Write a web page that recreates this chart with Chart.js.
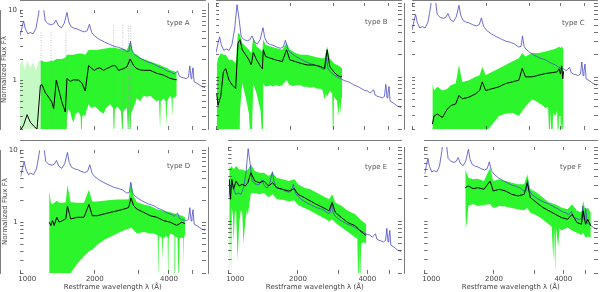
<!DOCTYPE html>
<html>
<head>
<meta charset="utf-8">
<title>composite spectra by type</title>
<script src="https://cdn.jsdelivr.net/npm/chart.js@4.4.0/dist/chart.umd.min.js"></script>
<style>
  body { margin: 0; width: 600px; height: 292px; background: #fff; position: relative; overflow: hidden; }
  .box { position: absolute; }
  .box canvas { display: block; }
  .typ { position: absolute; font: 7px "DejaVu Sans", sans-serif; color: #555; white-space: nowrap; }
</style>
</head>
<body>
<div class="box" style="left:0px;top:0px"><canvas id="cA" width="208" height="140"></canvas></div>
<div class="box" style="left:208px;top:0px"><canvas id="cB" width="196" height="140"></canvas></div>
<div class="box" style="left:404px;top:0px"><canvas id="cC" width="196" height="140"></canvas></div>
<div class="box" style="left:0px;top:140px"><canvas id="cD" width="208" height="152"></canvas></div>
<div class="box" style="left:208px;top:140px"><canvas id="cE" width="196" height="152"></canvas></div>
<div class="box" style="left:404px;top:140px"><canvas id="cF" width="196" height="152"></canvas></div>
<div class="typ" style="left:167px;top:19px">type A</div>
<div class="typ" style="left:365px;top:18px">type B</div>
<div class="typ" style="left:562px;top:19px">type C</div>
<div class="typ" style="left:167px;top:162px">type D</div>
<div class="typ" style="left:365px;top:163px">type E</div>
<div class="typ" style="left:560px;top:163px">type F</div>
<script>
// quasar composite (blue), same curve in every panel, scaled per panel
var tplLam = [1000,1020,1034,1050,1075,1100,1130,1160,1190,1216,1240,1265,1300,1340,1370,1398,1430,1470,1510,1549,1575,1610,1660,1700,1760,1820,1870,1909,1950,2000,2100,2200,2300,2400,2500,2600,2700,2760,2798,2840,2900,3000,3100,3200,3300,3400,3500,3600,3700,3800,3900,4000,4100,4200,4340,4400,4500,4600,4700,4800,4861,4920,4959,5007,5060,5200,5300,5400,5500,5600];
var tplFlux = [4.3,5.8,7.0,5.5,4.6,4.8,4.6,5.5,9,19,12,7.0,6.4,6.2,6.4,7.2,6.0,5.6,6.5,9.3,6.8,5.8,5.5,5.4,5.1,4.9,5.1,6.3,4.8,4.3,3.8,3.5,3.25,3.05,2.95,2.8,2.55,2.6,3.6,2.6,2.35,2.15,2.0,1.9,1.8,1.75,1.68,1.58,1.52,1.46,1.38,1.32,1.3,1.22,1.35,1.15,1.1,1.08,1.05,1.1,1.6,1.05,1.2,1.5,0.95,0.9,0.86,0.82,0.8,0.78];
var tplScale = [1, 0.5, 1, 1, 0.5, 1];

// type A: median (black), upper and lower edge of the green spread
var lamA = [1004,1035,1068,1101,1136,1172,1209,1228,1266,1306,1347,1368,1402,1433,1478,1525,1549,1597,1647,1726,1780,1836,1894,1953,2000,2047,2100,2177,2240,2316,2360,2427,2503,2560,2622,2660,2704,2789,2877,2967,3061,3157,3359,3574,3686,3802,3921,4045,4172,4304];
var medA = [0.19,0.23,0.32,0.25,0.22,0.2,0.84,0.86,0.66,0.57,0.48,0.39,1.0,0.74,0.48,0.35,1.06,0.96,1.01,1.0,0.91,0.7,1.62,1.46,1.38,1.46,1.5,1.38,1.46,1.54,1.6,1.62,1.38,1.42,1.46,1.5,1.54,2.0,1.62,1.46,1.40,1.38,1.38,1.25,1.22,1.18,1.12,1.06,1.03,1.01];
var upLamA = [1209,1228,1266,1306,1347,1368,1402,1433,1478,1525,1549,1597,1647,1726,1780,1836,1894,1953,2047,2177,2316,2427,2503,2622,2704,2789,2877,2967,3061,3157,3359,3574,3686,3802,3921,4045,4172,4304];
var upA = [1.9,1.9,1.8,1.85,1.9,1.9,2.0,2.0,2.0,2.1,2.3,2.3,2.3,2.4,2.4,2.3,2.7,2.7,2.7,2.8,2.9,2.9,2.8,2.8,2.7,3.5,2.4,2.3,2.1,2.0,1.85,1.7,1.65,1.55,1.5,1.4,1.35,1.3];
var loLamA = [1209,1540,1549,1570,1597,1620,1647,1680,1726,1760,1772,1785,1810,1836,1860,1894,1920,1953,2000,2047,2100,2177,2230,2316,2380,2400,2420,2480,2503,2560,2600,2615,2660,2704,2740,2760,2790,2815,2877,2967,3061,3157,3250,3359,3450,3574,3650,3686,3710,3802,3880,3910,3935,4045,4100,4130,4150,4250,4304];
var loA = [0.1,0.1,0.3,0.38,0.35,0.28,0.25,0.33,0.35,0.3,0.12,0.3,0.32,0.3,0.38,0.45,0.42,0.4,0.42,0.4,0.36,0.33,0.4,0.45,0.4,0.15,0.38,0.42,0.4,0.36,0.15,0.35,0.38,0.4,0.15,0.35,0.12,0.34,0.4,0.55,0.5,0.6,0.58,0.6,0.55,0.5,0.52,0.2,0.5,0.55,0.5,0.22,0.5,0.6,0.55,0.3,0.55,0.58,0.6];
// sparse spectra blueward of Lya in type A
var lamA0 = [1000,1020,1045,1070,1100,1130,1160,1190,1209];
var upA0 = [1.6,2.0,1.4,1.9,1.5,1.8,1.4,1.9,1.9];
var loA0 = [0.1,0.1,0.1,0.1,0.1,0.1,0.1,0.1,0.1];
// dotted line positions in type A
var markLam = [1217,1335,1535,2391,2605,2745,2806];
var markTop = [4.8,4.8,4.8,6.2,6.2,6.0,6.0];

var lamB = [1007,1019,1045,1071,1094,1129,1164,1201,1227,1250,1277,1318,1359,1389,1415,1460,1515,1540,1553,1587,1662,1741,1853,1929,1989,2097,2197,2337,2486,2646,2746,2815,2885,2994,3088,3186,3236];
var medB = [0.6,0.42,0.55,1.18,1.31,0.91,0.78,0.70,2.85,3.2,2.34,2.0,1.71,1.46,2.15,1.71,1.39,1.3,2.34,1.9,1.8,1.71,1.62,2.34,1.71,1.62,1.54,1.46,1.46,1.39,1.31,2.34,1.39,1.18,1.065,1.01,1.03];
var upB = [1.46,1.8,2.1,2.0,2.0,1.71,1.71,1.54,3.97,3.76,2.89,2.6,2.34,2.11,3.39,2.6,2.34,2.2,3.21,2.74,2.6,2.47,2.34,2.89,2.34,2.11,2.0,2.0,1.9,1.8,1.8,2.6,1.8,1.54,1.46,1.385,1.31];
var loLamB = [1007,1245,1250,1277,1318,1359,1385,1392,1415,1460,1515,1538,1545,1553,1587,1662,1700,1741,1800,1853,1929,1989,2050,2097,2197,2260,2337,2400,2486,2560,2646,2700,2746,2780,2815,2885,2950,2980,3000,3050,3088,3130,3160,3186,3210,3236];
var loB = [0.1,0.1,0.35,0.82,0.54,0.32,0.1,0.1,0.82,0.6,0.35,0.1,0.1,0.82,0.74,0.78,0.75,0.78,0.76,0.78,0.91,0.78,0.76,0.78,0.78,0.74,0.74,0.72,0.74,0.7,0.70,0.66,0.5,0.6,0.54,0.66,0.6,0.1,0.55,0.5,0.48,0.3,0.45,0.32,0.5,0.54];

var lamC = [1209,1228,1266,1327,1390,1434,1502,1549,1598,1700,1809,1877,1924,1985,2111,2246,2390,2542,2705,2790,2878,3061,3258,3466,3687,3863,3930,3984,4030,4072,4100];
var medC = [0.232,0.30,0.318,0.286,0.372,0.413,0.436,0.567,0.51,0.538,0.597,0.66,0.863,0.66,0.70,0.74,0.82,0.863,0.91,1.31,1.01,1.01,1.065,1.12,1.15,1.18,1.3,1.1,1.42,0.95,1.2];
var upC = [0.82,0.66,0.74,0.66,0.70,0.78,0.82,1.46,0.86,0.91,1.01,1.065,1.385,1.065,1.18,1.31,1.46,1.62,1.80,2.11,1.9,2.11,2.11,2.22,2.34,2.47,2.6,2.47,2.6,2.47,2.34];
var loLamC = [1209,1809,1877,1924,1985,2111,2246,2390,2542,2705,2790,2878,2960,3061,3150,3258,3360,3466,3550,3600,3630,3687,3720,3800,3863,3900,3930,3984,4010,4040,4072,4100];
var loC = [0.1,0.1,0.15,0.2,0.18,0.23,0.3,0.32,0.33,0.3,0.35,0.4,0.45,0.5,0.48,0.45,0.42,0.38,0.4,0.12,0.35,0.1,0.33,0.3,0.35,0.1,0.3,0.3,0.1,0.28,0.1,0.1];

var lamD = [1306,1327,1347,1368,1402,1433,1478,1525,1549,1597,1699,1808,1894,1953,2047,2177,2316,2464,2622,2745,2806,2877,2967,3157,3359,3574,3802,4045,4304,4508,4650];
var medD = [1.01,0.91,1.06,0.91,1.18,1.01,1.06,1.12,1.69,1.12,1.18,1.18,1.78,1.24,1.24,1.31,1.38,1.45,1.53,1.61,2.19,1.69,1.53,1.38,1.24,1.18,1.06,1.01,0.91,1.01,0.96];
var upD = [2.8,1.87,1.78,1.87,2.0,1.87,1.87,1.9,3.3,1.9,1.87,1.87,2.83,1.95,1.95,2.0,2.05,2.08,2.08,2.1,3.66,2.3,1.9,1.78,1.69,1.53,1.45,1.38,1.3,1.24,1.18];
var loLamD = [1306,1549,1597,1699,1808,1894,1953,2047,2177,2316,2464,2622,2745,2806,2877,2967,3157,3359,3500,3600,3620,3640,3740,3760,3780,3900,3950,3970,3990,4045,4150,4210,4230,4250,4330,4380,4420,4508,4560,4580,4600,4650];
var loD = [0.1,0.1,0.2,0.27,0.34,0.40,0.42,0.49,0.57,0.636,0.705,0.78,0.82,0.86,0.78,0.705,0.74,0.705,0.7,0.66,0.15,0.65,0.62,0.3,0.6,0.65,0.62,0.12,0.6,0.7,0.68,0.65,0.1,0.63,0.62,0.15,0.6,0.62,0.6,0.25,0.6,0.7];

var lamE = [1007,1019,1032,1051,1077,1111,1146,1182,1212,1250,1298,1359,1423,1492,1553,1612,1715,1824,1929,2002,2130,2266,2400,2565,2729,2815,2904,3088,3286,3547,3719,3957];
var medE = [3.66,1.97,3.66,2.69,3.48,2.98,3.14,2.98,3.3,4.5,3.48,3.3,3.48,2.98,3.3,2.83,2.69,2.55,2.74,2.30,2.08,1.87,1.69,1.53,1.38,1.78,1.31,1.12,0.96,0.866,0.742,0.636];
var upE = [5.53,5.2,5.53,4.99,5.53,4.99,4.99,4.74,4.99,5.82,4.74,4.5,4.5,4.06,4.5,3.86,3.66,3.48,3.66,3.14,2.83,2.69,2.43,2.19,1.97,2.3,1.78,1.61,1.38,1.24,1.06,0.91];
var loLamE = [1007,1012,1019,1025,1032,1045,1051,1065,1077,1095,1111,1130,1146,1160,1182,1200,1212,1250,1298,1359,1423,1492,1553,1612,1715,1824,1929,2002,2130,2266,2400,2565,2729,2815,2904,3088,3286,3547,3620,3660,3690,3719,3760,3850,3957];
var loE = [0.1,0.9,0.9,0.2,1.5,1.2,0.5,1.3,1.4,0.3,0.9,1.4,1.3,0.5,1.0,1.4,1.2,2.4,2.4,2.3,2.4,2.1,2.3,2.0,1.95,1.85,1.9,1.65,1.5,1.38,1.25,1.12,1.0,1.05,0.95,0.83,0.72,0.6,0.58,0.1,0.5,0.1,0.5,0.52,0.5];

var lamF = [1502,1549,1624,1700,1810,1924,1985,2111,2246,2390,2542,2705,2790,2878,3061,3258,3466,3687,3922,4172,4371,4580,4797,4872,4995,5104,5264];
var medF = [2.83,2.98,2.74,2.83,2.69,3.48,2.55,2.69,2.55,2.30,2.19,2.30,3.3,2.08,1.78,1.53,1.38,1.24,1.12,1.06,1.24,0.96,0.91,1.38,0.91,1.06,0.866];
var upF = [4.99,3.86,3.66,3.74,3.48,5.25,3.48,3.66,3.48,3.3,3.14,3.14,4.27,2.69,2.43,2.08,1.78,1.69,1.53,1.45,1.69,1.38,1.31,1.87,1.38,1.53,1.31];
var loLamF = [1502,1510,1520,1549,1624,1700,1810,1924,1985,2111,2246,2390,2542,2705,2790,2878,3061,3258,3466,3560,3620,3650,3687,3720,3800,3850,3922,4172,4371,4580,4797,4872,4995,5104,5264];
var loF = [0.7,1.2,0.8,1.61,1.7,1.6,1.65,1.7,1.5,1.6,1.58,1.5,1.45,1.4,1.5,1.3,1.2,1.05,0.9,0.85,0.3,0.85,0.2,0.8,0.45,0.8,0.75,0.82,0.75,0.7,0.65,0.7,0.6,0.62,0.6];

// axis ticks
var xTicks = [1000,2000,3000,4000,5000];
var xLabels = {1000: '\u2007\u2007\u20071000', 2000: '2000', 4000: '4000'};
var yTicks = [0.2,0.3,0.4,0.5,0.6,0.7,0.8,0.9,1,2,3,4,5,6,7,8,9,10];
var yLabels = {1: '1', 10: '10'};

var green = 'rgb(44,245,44)';
var paleGreen = 'rgba(90,240,90,0.35)';
var blue = '#4a4ac8';
var none = 'rgba(0,0,0,0)';

Chart.defaults.font.family = '"DejaVu Sans", sans-serif';
Chart.defaults.color = '#444';

var panels = [
  {id: 'cA', col: 0, row: 0, lam: lamA, med: medA, upLam: upLamA, up: upA, loLam: loLamA, lo: loA, k: tplScale[0], extra: true},
  {id: 'cB', col: 1, row: 0, lam: lamB, med: medB, up: upB, loLam: loLamB, lo: loB, k: tplScale[1]},
  {id: 'cC', col: 2, row: 0, lam: lamC, med: medC, up: upC, loLam: loLamC, lo: loC, k: tplScale[2]},
  {id: 'cD', col: 0, row: 1, lam: lamD, med: medD, up: upD, loLam: loLamD, lo: loD, k: tplScale[3]},
  {id: 'cE', col: 1, row: 1, lam: lamE, med: medE, up: upE, loLam: loLamE, lo: loE, k: tplScale[4]},
  {id: 'cF', col: 2, row: 1, lam: lamF, med: medF, up: upF, loLam: loLamF, lo: loF, k: tplScale[5]}
];
panels.forEach(makePanel);

function pts(xs, ys) {
  return xs.map(function(x, i) { return {x: x, y: ys[i]}; });
}

function setTicks(vals) {
  return function(ax) { ax.ticks = vals.map(function(v) { return {value: v}; }); };
}

function makePanel(p) {
  var bottom = p.row == 1;
  var first = p.col == 0;
  var sets = [
    {data: pts(p.upLam || p.lam, p.up), fill: '+1', backgroundColor: green, borderColor: none, borderWidth: 0, order: 5},
    {data: pts(p.loLam, p.lo), fill: false, borderColor: none, borderWidth: 0, order: 5},
    {data: pts(tplLam, tplFlux.map(function(v) { return v * p.k; })), fill: false, borderColor: blue, borderWidth: 0.8, order: 1},
    {data: pts(p.lam, p.med), fill: false, borderColor: '#000', borderWidth: 1, order: 0}
  ];
  if (p.extra) {
    sets.push({data: pts(lamA0, upA0), fill: '+1', backgroundColor: paleGreen, borderColor: none, borderWidth: 0, order: 6});
    sets.push({data: pts(lamA0, loA0), fill: false, borderColor: none, borderWidth: 0, order: 6});
    var d = [];
    markLam.forEach(function(l, i) { d.push({x: l, y: markTop[i]}, {x: l, y: 0.1}, {x: l, y: null}); });
    sets.push({data: d, fill: false, borderColor: '#9a9a9a', borderWidth: 0.6, borderDash: [1, 1.5], spanGaps: false, order: 2});
  }

  var tickGrid = {drawOnChartArea: false, tickLength: -3, color: '#333', lineWidth: 0.7, z: 1};
  var edge = {color: '#333', width: 0.8};

  new Chart(document.getElementById(p.id), {
    type: 'line',
    data: {datasets: sets},
    options: {
      animation: false,
      responsive: false,
      devicePixelRatio: 1,
      layout: {padding: {left: 0, right: 3, top: bottom ? 7 : 3, bottom: 0}},
      plugins: {legend: {display: false}, tooltip: {enabled: false}},
      elements: {point: {radius: 0}, line: {tension: 0}},
      scales: {
        x: {
          type: 'logarithmic', position: 'bottom', min: 1000, max: 5600,
          afterBuildTicks: setTicks(xTicks),
          afterFit: function(ax) { ax.height = bottom ? 19 : 11; },
          ticks: {display: bottom, autoSkip: false, maxRotation: 0, padding: 5, font: {size: 7},
                  callback: function(v) { return xLabels[v] || ''; }},
          grid: tickGrid, border: edge,
          title: {display: bottom, text: 'Restframe wavelength \u03bb (\u00c5)', padding: {top: 0, bottom: 1}, font: {size: 7}}
        },
        x2: {
          type: 'logarithmic', position: 'top', min: 1000, max: 5600,
          afterBuildTicks: setTicks(xTicks),
          afterFit: function(ax) { ax.height = 0; },
          ticks: {display: false}, grid: tickGrid, border: edge
        },
        y: {
          type: 'logarithmic', position: 'left', min: 0.2, max: 10,
          afterBuildTicks: setTicks(yTicks),
          afterFit: function(ax) { ax.width = first ? 20 : 8; },
          ticks: {display: first, autoSkip: false, padding: 6, font: {size: 7},
                  callback: function(v) { return yLabels[v] || ''; }},
          grid: tickGrid, border: edge,
          title: {display: first, text: 'Normalized Flux F\u03bb', padding: {top: 0, bottom: 0}, font: {size: 7}}
        },
        y2: {
          type: 'logarithmic', position: 'right', min: 0.2, max: 10,
          afterBuildTicks: setTicks(yTicks),
          afterFit: function(ax) { ax.width = 0; },
          ticks: {display: false}, grid: tickGrid, border: edge
        }
      }
    }
  });
}
</script>
</body>
</html>
